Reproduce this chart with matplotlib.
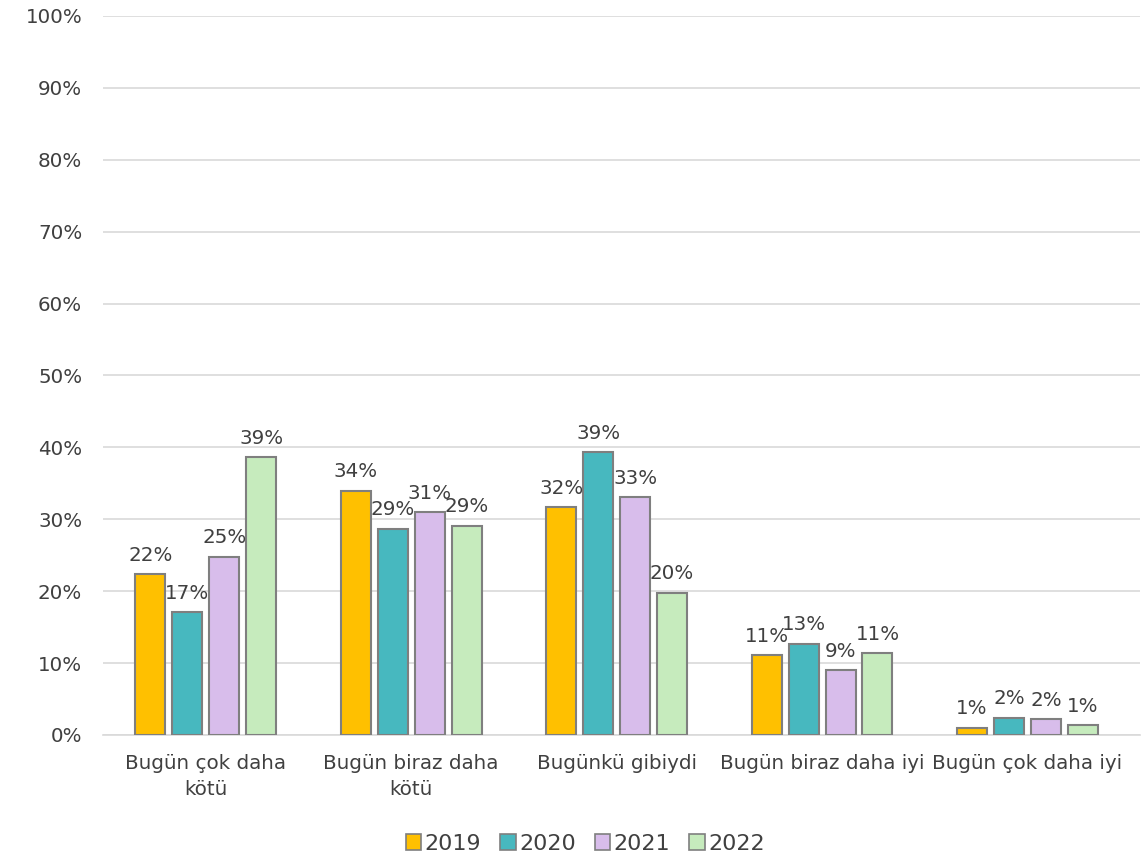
import numpy as np
import matplotlib
matplotlib.use("Agg")
import matplotlib.pyplot as plt
from matplotlib.patches import Patch

categories = ["Bugün çok daha\nkötü", "Bugün biraz daha\nkötü", "Bugünkü gibiydi",
              "Bugün biraz daha iyi", "Bugün çok daha iyi"]
years = ["2019", "2020", "2021", "2022"]
v2019 = [22.4, 34.0, 31.7, 11.1, 1.0]
v2020 = [17.1, 28.7, 39.3, 12.7, 2.4]
v2021 = [24.8, 31.0, 33.1, 9.0, 2.2]
v2022 = [38.6, 29.1, 19.8, 11.4, 1.4]
colors = ["#FFC000", "#47B8BF", "#D8BDEB", "#C6EBBD"]

plt.rcParams['font.family'] = ['DejaVu Sans']
txt = "#404040"
fs = 14.3

fig = plt.figure(figsize=(11.45, 8.59), dpi=100)
ax = fig.add_axes([0.09, 0.1444, 0.906, 0.837])

x = np.arange(len(categories))
pitch = 0.18
width = 0.146
series = [v2019, v2020, v2021, v2022]
for i, vals in enumerate(series):
    pos = x + (i - 1.5) * pitch
    bars = ax.bar(pos, vals, width, color=colors[i], edgecolor="#7F7F7F",
                  linewidth=1.5, zorder=3)
    for b, v in zip(bars, vals):
        ax.text(b.get_x() + b.get_width() / 2, v + 1.3, f"{round(v):.0f}%",
                ha="center", va="bottom", fontsize=fs, color=txt, zorder=4)

ax.set_xlim(-0.5, len(categories) - 0.45)
ax.set_ylim(0, 100)
ax.set_yticks(range(0, 101, 10))
ax.set_yticklabels([f"{t}%" for t in range(0, 101, 10)], fontsize=fs, color=txt)
ax.set_xticks(x)
ax.set_xticklabels(categories, fontsize=fs, color=txt, linespacing=1.45)
ax.tick_params(axis="both", length=0)
ax.tick_params(axis="y", pad=15)
ax.tick_params(axis="x", pad=14)
ax.yaxis.grid(True, color="#D9D9D9", linewidth=1.2, zorder=0)
for s in ["top", "right", "left"]:
    ax.spines[s].set_visible(False)
ax.spines["bottom"].set_color("#D9D9D9")
ax.spines["bottom"].set_linewidth(1.2)

handles = [Patch(facecolor=c, edgecolor="#7F7F7F", linewidth=1.2) for c in colors]
fig.legend(handles, years, loc="center", bbox_to_anchor=(0.511, 0.018), ncol=4,
           frameon=False, fontsize=16, handlelength=0.7, handleheight=0.7,
           handletextpad=0.15, columnspacing=0.85, labelcolor=txt)

fig.savefig("out.png", dpi=100)
